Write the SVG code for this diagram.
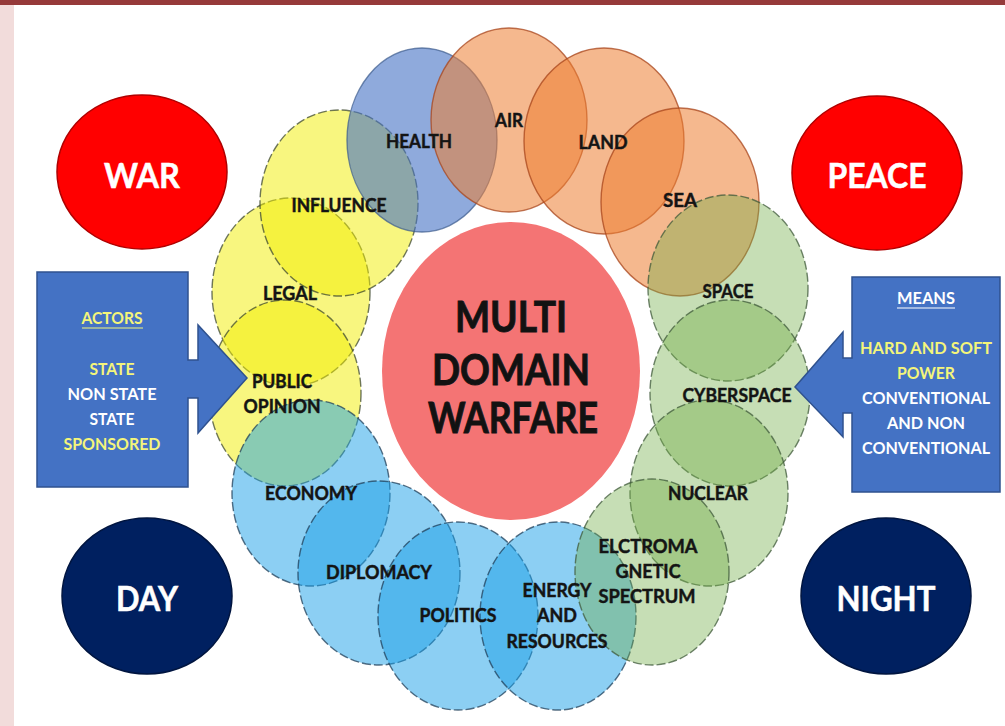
<svg xmlns="http://www.w3.org/2000/svg" width="1005" height="726" viewBox="0 0 1005 726">
<defs>
<style>
.bg{fill:#ffffff}
.y{fill:#f2ee00;fill-opacity:.5;stroke:#3f4a30;stroke-opacity:.75;stroke-width:1.4;stroke-dasharray:9 3}
.o{fill:#ed7d31;fill-opacity:.55;stroke:#a8461c;stroke-opacity:.75;stroke-width:1.4}
.hb{fill:#4472c4;fill-opacity:.6;stroke:#3a5a8c;stroke-opacity:.7;stroke-width:1.4}
.g{fill:#70ad47;fill-opacity:.4;stroke:#3f5a3a;stroke-opacity:.75;stroke-width:1.4;stroke-dasharray:9 3}
.b{fill:#1aa0e8;fill-opacity:.5;stroke:#1f3f5a;stroke-opacity:.75;stroke-width:1.4;stroke-dasharray:9 3}
.lbl{font-family:Lato,"Liberation Sans",sans-serif;font-weight:700;font-size:18px;fill:#141414;stroke:#141414;stroke-width:0.45;text-anchor:middle}
.big{font-family:Lato,"Liberation Sans",sans-serif;font-weight:700;font-size:34px;fill:#ffffff;text-anchor:middle;stroke:#ffffff;stroke-width:0.5}
.center{font-family:Lato,"Liberation Sans",sans-serif;font-weight:700;font-size:42px;fill:#121212;stroke:#121212;stroke-width:0.9;text-anchor:middle}
.pt{font-family:Lato,"Liberation Sans",sans-serif;font-weight:700;font-size:17px;text-anchor:middle}
.pw{fill:#ffffff}
.py{fill:#f4f57a}
.panel{fill:#4472c4;stroke:#2f528f;stroke-width:1.5}
</style>
</defs>
<rect class="bg" x="0" y="0" width="1005" height="726"/>
<rect x="0" y="0" width="14" height="726" fill="#f2dcdb"/>
<rect x="0" y="0" width="1005" height="5" fill="#963a3a"/>

<g id="war"><ellipse cx="142" cy="172" rx="85" ry="77" fill="#ff0000" stroke="#b00000" stroke-width="1.5"/><text class="big" x="142" y="188" textLength="76" lengthAdjust="spacingAndGlyphs">WAR</text></g>
<g id="peace"><ellipse cx="877" cy="173" rx="85" ry="77" fill="#ff0000" stroke="#b00000" stroke-width="1.5"/><text class="big" x="877" y="188" textLength="99" lengthAdjust="spacingAndGlyphs">PEACE</text></g>
<g id="day"><ellipse cx="147" cy="596" rx="85" ry="78" fill="#002060" stroke="#001540" stroke-width="1.5"/><text class="big" x="147" y="611" textLength="62" lengthAdjust="spacingAndGlyphs">DAY</text></g>
<g id="night"><ellipse cx="886" cy="596" rx="85" ry="78" fill="#002060" stroke="#001540" stroke-width="1.5"/><text class="big" x="886" y="611" textLength="99" lengthAdjust="spacingAndGlyphs">NIGHT</text></g>

<g id="center"><ellipse cx="511" cy="371" rx="129" ry="149" fill="#f47474"/>
<text class="center" x="511" y="332" textLength="112" lengthAdjust="spacingAndGlyphs">MULTI</text>
<text class="center" x="511" y="385" textLength="158" lengthAdjust="spacingAndGlyphs">DOMAIN</text>
<text class="center" x="513" y="433" textLength="170" lengthAdjust="spacingAndGlyphs">WARFARE</text>
</g>

<g id="domains">
<ellipse id="c-legal" class="y" cx="291" cy="292" rx="79" ry="94"/>
<ellipse id="c-public" class="y" cx="285" cy="393" rx="76" ry="93"/>
<ellipse id="c-influence" class="y" cx="339" cy="203" rx="79" ry="93"/>
<ellipse id="c-health" class="hb" cx="422" cy="140" rx="75" ry="92"/>
<ellipse id="c-air" class="o" cx="509" cy="120" rx="78" ry="92"/>
<ellipse id="c-land" class="o" cx="604" cy="141" rx="80" ry="93"/>
<ellipse id="c-sea" class="o" cx="680" cy="202" rx="79" ry="94"/>
<ellipse id="c-space" class="g" cx="728" cy="288" rx="80" ry="93"/>
<ellipse id="c-cyber" class="g" cx="730" cy="393" rx="80" ry="93"/>
<ellipse id="c-nuclear" class="g" cx="709" cy="493" rx="79" ry="93"/>
<ellipse id="c-economy" class="b" cx="311" cy="493" rx="79" ry="93"/>
<ellipse id="c-diplomacy" class="b" cx="379" cy="573" rx="81" ry="92"/>
<ellipse id="c-politics" class="b" cx="458" cy="616" rx="80" ry="94"/>
<ellipse id="c-energy" class="b" cx="558" cy="616" rx="78" ry="94"/>
<ellipse id="c-em" class="g" cx="652" cy="572" rx="77" ry="93"/>
</g>

<g id="actors">
<path class="panel" d="M37,272 H188 V360 H198 V325 L247,378 L198,433 V398 H188 V487 H37 Z"/>
<text class="pt py" x="112" y="324" textLength="61" lengthAdjust="spacingAndGlyphs">ACTORS</text>
<line x1="82" y1="328" x2="143" y2="328" stroke="#f4f57a" stroke-width="1.2"/>
<text class="pt py" x="112" y="375" textLength="45" lengthAdjust="spacingAndGlyphs">STATE</text>
<text class="pt pw" x="112" y="400" textLength="89" lengthAdjust="spacingAndGlyphs">NON STATE</text>
<text class="pt pw" x="112" y="425" textLength="45" lengthAdjust="spacingAndGlyphs">STATE</text>
<text class="pt py" x="112" y="450" textLength="97" lengthAdjust="spacingAndGlyphs">SPONSORED</text>
</g>

<g id="means">
<path class="panel" d="M1000,277 H852 V358 H843 V332 L795,387 L843,437 V413 H852 V492 H1000 Z"/>
<text class="pt pw" x="926" y="304" textLength="58" lengthAdjust="spacingAndGlyphs">MEANS</text>
<line x1="897" y1="308" x2="955" y2="308" stroke="#ffffff" stroke-width="1.2"/>
<text class="pt py" x="926" y="354" textLength="132" lengthAdjust="spacingAndGlyphs">HARD AND SOFT</text>
<text class="pt py" x="926" y="379" textLength="58" lengthAdjust="spacingAndGlyphs">POWER</text>
<text class="pt pw" x="926" y="404" textLength="128" lengthAdjust="spacingAndGlyphs">CONVENTIONAL</text>
<text class="pt pw" x="926" y="429" textLength="78" lengthAdjust="spacingAndGlyphs">AND NON</text>
<text class="pt pw" x="926" y="454" textLength="128" lengthAdjust="spacingAndGlyphs">CONVENTIONAL</text>
</g>

<g id="labels">
<text class="lbl" x="419" y="148" textLength="66" lengthAdjust="spacingAndGlyphs">HEALTH</text>
<text class="lbl" x="509" y="127" textLength="28" lengthAdjust="spacingAndGlyphs">AIR</text>
<text class="lbl" x="603" y="149" textLength="49" lengthAdjust="spacingAndGlyphs">LAND</text>
<text class="lbl" x="680" y="207" textLength="34" lengthAdjust="spacingAndGlyphs">SEA</text>
<text class="lbl" x="728" y="298" textLength="51" lengthAdjust="spacingAndGlyphs">SPACE</text>
<text class="lbl" x="737" y="402" textLength="109" lengthAdjust="spacingAndGlyphs">CYBERSPACE</text>
<text class="lbl" x="708" y="500" textLength="80" lengthAdjust="spacingAndGlyphs">NUCLEAR</text>
<text class="lbl" x="648" y="553" textLength="99" lengthAdjust="spacingAndGlyphs">ELCTROMA</text>
<text class="lbl" x="648" y="578" textLength="65" lengthAdjust="spacingAndGlyphs">GNETIC</text>
<text class="lbl" x="647" y="603" textLength="97" lengthAdjust="spacingAndGlyphs">SPECTRUM</text>
<text class="lbl" x="557" y="597" textLength="69" lengthAdjust="spacingAndGlyphs">ENERGY</text>
<text class="lbl" x="557" y="622" textLength="40" lengthAdjust="spacingAndGlyphs">AND</text>
<text class="lbl" x="557" y="648" textLength="101" lengthAdjust="spacingAndGlyphs">RESOURCES</text>
<text class="lbl" x="458" y="622" textLength="77" lengthAdjust="spacingAndGlyphs">POLITICS</text>
<text class="lbl" x="379" y="579" textLength="106" lengthAdjust="spacingAndGlyphs">DIPLOMACY</text>
<text class="lbl" x="311" y="500" textLength="92" lengthAdjust="spacingAndGlyphs">ECONOMY</text>
<text class="lbl" x="282" y="388" textLength="60" lengthAdjust="spacingAndGlyphs">PUBLIC</text>
<text class="lbl" x="282" y="413" textLength="77" lengthAdjust="spacingAndGlyphs">OPINION</text>
<text class="lbl" x="290" y="300" textLength="54" lengthAdjust="spacingAndGlyphs">LEGAL</text>
<text class="lbl" x="339" y="212" textLength="95" lengthAdjust="spacingAndGlyphs">INFLUENCE</text>
</g>
</svg>
